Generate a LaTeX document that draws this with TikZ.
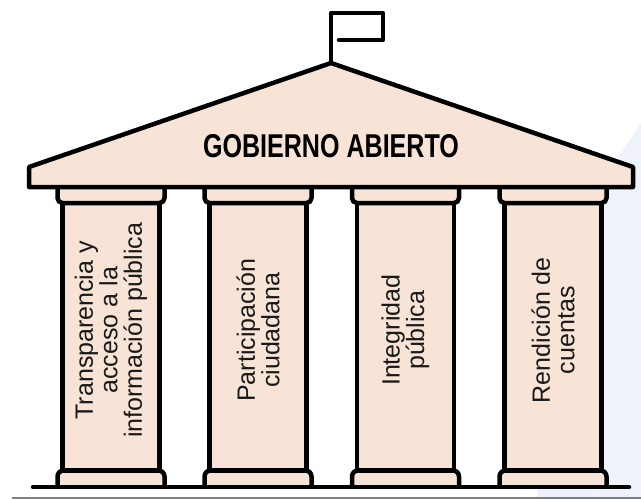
\documentclass[tikz,border=0pt]{standalone}
\usepackage{fontspec}
\setmainfont{Liberation Sans}
\newfontfamily\titlefont[FakeStretch=0.76]{Liberation Sans}
\definecolor{peach}{RGB}{248,228,214}
\definecolor{skyback}{RGB}{238,243,251}
\definecolor{floorgray}{RGB}{128,128,128}
\tikzset{
  part/.style={draw=black, line width=4.5pt, fill=peach, line join=round},
  pillartext/.style={rotate=90, align=center, text=black!90, font=\fontsize{25}{24.5}\selectfont}
}

\begin{document}
\begin{tikzpicture}[x=1pt,y=-1pt]
    \useasboundingbox (0,0) rectangle (641,499);
    % background
    \fill[skyback] (641,123) -- (597,190) -- (536,499) -- (641,499) -- cycle;
    \draw[floorgray, line width=2pt] (12,498) -- (641,498);

    % shafts
    \draw[part] (62.5,190) rectangle (159.5,470.5) node[pos=0.5,pillartext] (transp) {Transparencia y\\acceso a la\\información pública};
    \draw[part] (209.5,190) rectangle (306.5,470.5) node[pos=0.5,pillartext] (partic) {Participación\\ciudadana};
    \draw[part] (357,190) rectangle (454,470.5) node[pos=0.5,pillartext] (integ) {Integridad\\pública};
    \draw[part] (504.5,190) rectangle (601.5,470.5) node[pos=0.5,pillartext] (rendic) {Rendición de\\cuentas};

    % capitals
    \draw[part, rounded corners=5pt] (57.5,187) -- (57.5,203) -- (164.5,203) -- (164.5,187);
    \draw[part, rounded corners=5pt] (204.5,187) -- (204.5,203) -- (311.5,203) -- (311.5,187);
    \draw[part, rounded corners=5pt] (352,187) -- (352,203) -- (459,203) -- (459,187);
    \draw[part, rounded corners=5pt] (499.5,187) -- (499.5,203) -- (606.5,203) -- (606.5,187);

    % bases
    \draw[part, rounded corners=6pt] (57.5,487) -- (57.5,470.5) -- (164.5,470.5) -- (164.5,487);
    \draw[part, rounded corners=6pt] (204.5,487) -- (204.5,470.5) -- (311.5,470.5) -- (311.5,487);
    \draw[part, rounded corners=6pt] (352,487) -- (352,470.5) -- (459,470.5) -- (459,487);
    \draw[part, rounded corners=6pt] (499.5,487) -- (499.5,470.5) -- (606.5,470.5) -- (606.5,487);
    \draw[line width=4.5pt, line cap=round] (33,487) -- (629,487);

    % roof and flag
    \draw[part] (29,187) -- (29,167) -- (331,63) -- (633,167) -- (633,187) -- cycle;
    \node (title) at (331,146) {\titlefont\bfseries\fontsize{33}{33}\selectfont GOBIERNO ABIERTO};
    \draw[line width=4.5pt, line join=round, line cap=round] (331,63) -- (331,13) -- (383,13) -- (383,40) -- (339,40);
\end{tikzpicture}
\end{document}
